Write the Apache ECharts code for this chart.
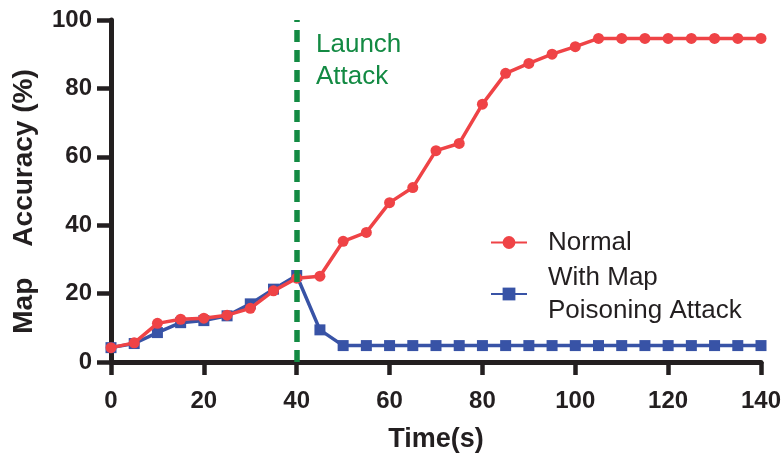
<!DOCTYPE html>
<html>
<head>
<meta charset="utf-8">
<script src="https://cdn.jsdelivr.net/npm/echarts@6/dist/echarts.min.js"></script>
<style>
  html, body { margin: 0; padding: 0; background: #ffffff; }
  #chart { width: 782px; height: 458px; }
</style>
</head>
<body>
<div id="chart"></div>
<script>
// Time stamps (s) sampled every 5 seconds
const times = [0, 5, 10, 15, 20, 25, 30, 35, 40, 45, 50, 55, 60, 65, 70, 75, 80, 85, 90, 95, 100, 105, 110, 115, 120, 125, 130, 135, 140];

// Map accuracy (%) without attack
const normalAcc = [4.2, 5.6, 11.3, 12.5, 12.8, 13.7, 15.7, 20.8, 24.5, 25.1, 35.3, 37.9, 46.6, 51.0, 61.8, 63.9, 75.4, 84.4, 87.3, 90.0, 92.2, 94.6, 94.6, 94.6, 94.6, 94.6, 94.6, 94.6, 94.6];

// Map accuracy (%) with the poisoning attack launched at t = 40 s
const attackAcc = [4.2, 5.4, 8.6, 11.5, 12.1, 13.5, 17.0, 21.3, 25.3, 9.4, 4.8, 4.8, 4.8, 4.8, 4.8, 4.8, 4.8, 4.8, 4.8, 4.8, 4.8, 4.8, 4.8, 4.8, 4.8, 4.8, 4.8, 4.8, 4.8];

const seriesNames = ['Normal', 'With Map\nPoisoning Attack'];
const launchTime = 40;
const launchText = 'Launch\nAttack';
const xTicks = [0, 20, 40, 60, 80, 100, 120, 140];
const yTicks = [0, 20, 40, 60, 80, 100];

const ink = '#231f20';
const red = '#ef4346';
const blue = '#3853a6';
const green = '#138a43';
const font = '"Liberation Sans", Arial, Helvetica, sans-serif';

const pair = (xs, ys) => xs.map((x, i) => [x, ys[i]]);

const chart = echarts.init(document.getElementById('chart'), null, { renderer: 'canvas' });

chart.setOption({
  animation: false,
  backgroundColor: '#ffffff',
  grid: { left: 111, right: 21, top: 20, bottom: 96, containLabel: false, outerBoundsMode: 'none' },
  xAxis: {
    type: 'value',
    min: xTicks[0],
    max: xTicks[xTicks.length - 1],
    interval: 20,
    name: 'Time(s)',
    nameLocation: 'middle',
    nameGap: 64,
    nameTextStyle: { fontFamily: font, fontWeight: 'bold', fontSize: 27, color: ink },
    axisLine: { show: true, lineStyle: { color: ink, width: 5 } },
    axisTick: { show: true, length: 13, lineStyle: { color: ink, width: 4.5 } },
    axisLabel: { margin: 27, fontFamily: font, fontWeight: 'bold', fontSize: 24, color: ink },
    splitLine: { show: false }
  },
  yAxis: {
    type: 'value',
    min: yTicks[0],
    max: yTicks[yTicks.length - 1],
    interval: 20,
    name: 'Map    Accuracy (%)',
    nameLocation: 'middle',
    nameGap: 73,
    nameTextStyle: { fontFamily: font, fontWeight: 'bold', fontSize: 28, color: ink, padding: [0, 21, 0, 0] },
    axisLine: { show: true, lineStyle: { color: ink, width: 5 } },
    axisTick: { show: true, length: 14, lineStyle: { color: ink, width: 4.5 } },
    axisLabel: { margin: 19, fontFamily: font, fontWeight: 'bold', fontSize: 24, color: ink },
    splitLine: { show: false }
  },
  legend: {
    orient: 'vertical',
    left: 485,
    top: 221,
    itemWidth: 36,
    itemHeight: 16,
    itemGap: 2,
    data: [seriesNames[0], seriesNames[1]],
    textStyle: { fontFamily: font, fontSize: 26, lineHeight: 33, color: ink, padding: [0, 0, 0, 16] }
  },
  graphic: [
    {
      type: 'text',
      left: 316,
      top: 29,
      z: 20,
      style: {
        text: launchText,
        fill: green,
        font: '26px ' + font,
        lineHeight: 32
      }
    }
  ],
  series: [
    {
      name: seriesNames[1],
      type: 'line',
      data: pair(times, attackAcc),
      symbol: 'rect',
      symbolSize: 11,
      z: 2,
      lineStyle: { color: blue, width: 3.5 },
      itemStyle: { color: blue }
    },
    {
      name: seriesNames[0],
      type: 'line',
      data: pair(times, normalAcc),
      symbol: 'circle',
      symbolSize: 11,
      z: 3,
      lineStyle: { color: red, width: 3.5 },
      itemStyle: { color: red },
      markLine: {
        silent: true,
        symbol: 'none',
        z: 10,
        label: { show: false },
        lineStyle: { color: green, width: 5.5, type: [12, 8] },
        data: [{ xAxis: launchTime }]
      }
    }
  ]
});
</script>
</body>
</html>
